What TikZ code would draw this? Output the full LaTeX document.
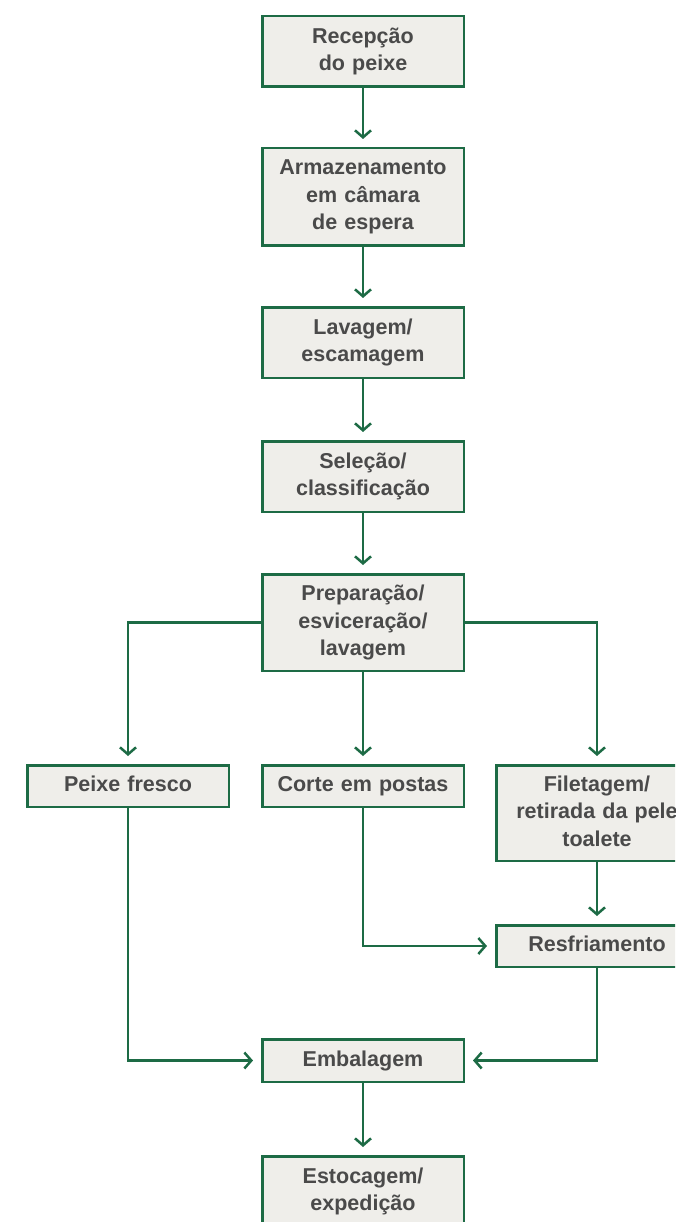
\documentclass[tikz,border=0pt]{standalone}
\usepackage{fontspec}
\setmainfont{Liberation Sans}
\usetikzlibrary{positioning,arrows.meta,calc}
\definecolor{flowgreen}{HTML}{1D6B45}
\definecolor{flowfill}{HTML}{EFEEEA}
\definecolor{flowtext}{HTML}{4A4A4A}
\tikzstyle{box1} = [rectangle, draw=flowgreen, fill=flowfill, line width=2.5pt, %
   text=flowtext, text width=199pt, minimum width=201.5pt, inner sep=0pt, %
   align=center, font=\bfseries\fontsize{21.5}{27.5}\selectfont, %
   execute at begin node=\strut, execute at end node=\strut]
\tikzstyle{line} = [draw=flowgreen, line width=2.5pt, %
   -{Straight Barb[length=7pt,width=16pt]}, shorten >=8pt]

\begin{document}
\begin{tikzpicture}[x=1pt,y=1pt]
   \path[use as bounding box, clip] (0,0) rectangle (675,-1222);

   % Main spine
   \node[box1, minimum height=70.5pt] (recep) at (363,-51.5) {Recepção\\do peixe};
   \node[box1, minimum height=97.5pt, below=59pt of recep] (armaz) {Armazenamento\\em câmara\\de espera};
   \node[box1, minimum height=70.5pt, below=59pt of armaz] (lavag) {Lavagem/\\escamagem};
   \node[box1, minimum height=70.5pt, below=61pt of lavag] (selec) {Seleção/\\classificação};
   \node[box1, minimum height=96.5pt, below=60pt of selec] (prepar) {Preparação/\\esviceração/\\lavagem};

   % Three branches
   \node[box1, minimum height=41.5pt, below=92pt of prepar] (corte) {Corte em postas};
   \node[box1, minimum height=41.5pt, left=31pt of corte] (fresco) {Peixe fresco};
   \node[box1, minimum height=95.5pt, anchor=north west] (filet) at ($(corte.north east)+(30,0)$) {Filetagem/\\retirada da pele\\toalete};
   \node[box1, minimum height=41.5pt, below=62pt of filet] (resfr) {Resfriamento};

   % Tail
   \node[box1, minimum height=42.5pt, anchor=north] (embal) at ($(resfr.south -| corte)+(0,-70)$) {Embalagem};
   \node[box1, minimum height=70.5pt, below=72pt of embal] (estoc) {Estocagem/\\expedição};

   % Draw edges
   \path [line] (recep) -- (armaz);
   \path [line] (armaz) -- (lavag);
   \path [line] (lavag) -- (selec);
   \path [line] (selec) -- (prepar);
   \path [line] (prepar.west) -| (fresco.north);
   \path [line] (prepar) -- (corte);
   \path [line] (prepar.east) -| (filet.north);
   \path [line] (corte.south) |- (resfr.west);
   \path [line] (filet) -- (resfr);
   \path [line] (fresco.south) |- (embal.west);
   \path [line] (resfr.south) |- (embal.east);
   \path [line] (embal) -- (estoc);
\end{tikzpicture}
\end{document}
